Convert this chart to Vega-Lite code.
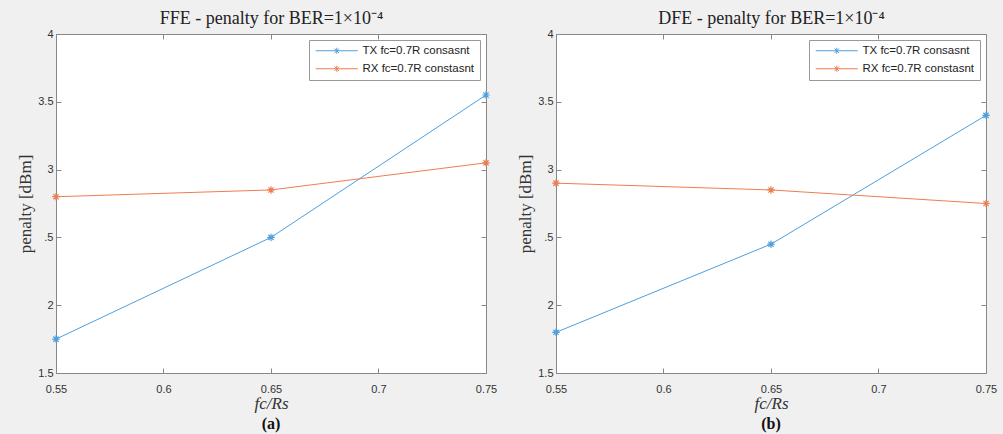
{
  "$schema": "https://vega.github.io/schema/vega-lite/v6.json",
  "background": "#f0f0f0",
  "padding": {"left": 16, "top": 9, "right": 10, "bottom": 2},
  "spacing": 18,
  "resolve": {"scale": {"color": "independent"}, "legend": {"color": "independent"}},
  "datasets": {
    "ffe": [
      {"ratio": 0.55, "penalty": 1.75, "series": "TX fc=0.7R consasnt"},
      {"ratio": 0.65, "penalty": 2.5, "series": "TX fc=0.7R consasnt"},
      {"ratio": 0.75, "penalty": 3.55, "series": "TX fc=0.7R consasnt"},
      {"ratio": 0.55, "penalty": 2.8, "series": "RX fc=0.7R constasnt"},
      {"ratio": 0.65, "penalty": 2.85, "series": "RX fc=0.7R constasnt"},
      {"ratio": 0.75, "penalty": 3.05, "series": "RX fc=0.7R constasnt"}
    ],
    "dfe": [
      {"ratio": 0.55, "penalty": 1.8, "series": "TX fc=0.7R consasnt"},
      {"ratio": 0.65, "penalty": 2.45, "series": "TX fc=0.7R consasnt"},
      {"ratio": 0.75, "penalty": 3.4, "series": "TX fc=0.7R consasnt"},
      {"ratio": 0.55, "penalty": 2.9, "series": "RX fc=0.7R constasnt"},
      {"ratio": 0.65, "penalty": 2.85, "series": "RX fc=0.7R constasnt"},
      {"ratio": 0.75, "penalty": 2.75, "series": "RX fc=0.7R constasnt"}
    ]
  },
  "config": {
    "view": {"fill": "white", "stroke": "#888888"},
    "axis": {
      "domainColor": "#888888",
      "tickColor": "#888888",
      "grid": false,
      "labelFont": "Liberation Sans",
      "labelFontSize": 11,
      "labelColor": "#333333",
      "labelFlush": false,
      "titleFont": "Liberation Serif",
      "titleFontWeight": "normal",
      "titleFontSize": 17,
      "titleColor": "#333333"
    },
    "legend": {
      "orient": "top-right",
      "offset": 6,
      "strokeColor": "#999999",
      "fillColor": "white",
      "padding": 5,
      "labelFont": "Liberation Sans",
      "labelFontSize": 11.5,
      "labelColor": "#222222",
      "symbolType": "M-5.25,0L5.25,0M-0.55,-0.55L0.55,0.55M-0.55,0.55L0.55,-0.55M0,-0.75L0,0.75",
      "symbolSize": 64,
      "symbolStrokeWidth": 1,
      "symbolFillColor": "transparent",
      "symbolOffset": 17,
      "labelOffset": 20,
      "rowPadding": 5
    },
    "title": {"font": "Liberation Serif", "fontSize": 16, "fontWeight": "bold", "color": "#111111"}
  },
  "hconcat": [
    {
      "title": {"text": "(a)", "orient": "bottom", "offset": 5},
      "width": 430,
      "height": 339,
      "data": {"name": "ffe"},
      "layer": [
        {
          "mark": {"type": "line", "strokeWidth": 1},
          "encoding": {
            "x": {"field": "ratio", "type": "quantitative", "scale": {"domain": [0.55, 0.75], "nice": false, "zero": false},
                  "axis": {"orient": "bottom", "title": "fc/Rs", "titleFontStyle": "italic", "values": [0.55, 0.6, 0.65, 0.7, 0.75], "format": "~g", "tickSize": -5, "labelPadding": 15, "titlePadding": 1}},
            "y": {"field": "penalty", "type": "quantitative", "scale": {"domain": [1.5, 4], "nice": false, "zero": false},
                  "axis": {"orient": "left", "title": "penalty [dBm]", "values": [1.5, 2, 2.5, 3, 3.5, 4], "labelExpr": "datum.value == 2.5 ? '.5' : format(datum.value, '~g')", "tickSize": -5, "labelPadding": 8, "titlePadding": 3}},
            "color": {"field": "series", "type": "nominal", "sort": ["TX fc=0.7R consasnt", "RX fc=0.7R constasnt"],
                      "scale": {"domain": ["TX fc=0.7R consasnt", "RX fc=0.7R constasnt"], "range": ["#4f9fdc", "#ef7d52"]},
                      "legend": {"title": null}}
          }
        },
        {
          "mark": {"type": "point", "shape": "M-1,0L1,0M-0.7,-0.7L0.7,0.7M-0.7,0.7L0.7,-0.7M0,-1L0,1", "filled": false, "size": 56, "strokeWidth": 1.2, "opacity": 1},
          "encoding": {
            "x": {"field": "ratio", "type": "quantitative", "axis": null},
            "y": {"field": "penalty", "type": "quantitative", "axis": null},
            "color": {"field": "series", "type": "nominal", "legend": null}
          }
        },
        {
          "mark": {"type": "line", "opacity": 0},
          "encoding": {
            "x": {"field": "ratio", "type": "quantitative",
                  "axis": {"orient": "top", "title": "FFE - penalty for BER=1×10⁻⁴", "titleFontSize": 18, "titleColor": "#222222", "labels": false, "values": [0.55, 0.6, 0.65, 0.7, 0.75], "tickSize": -5, "titlePadding": 6}},
            "y": {"field": "penalty", "type": "quantitative",
                  "axis": {"orient": "right", "title": null, "labels": false, "values": [1.5, 2, 2.5, 3, 3.5, 4], "tickSize": -5}}
          }
        }
      ],
      "resolve": {"axis": {"x": "independent", "y": "independent"}}
    },
    {
      "title": {"text": "(b)", "orient": "bottom", "offset": 5},
      "width": 430,
      "height": 339,
      "data": {"name": "dfe"},
      "layer": [
        {
          "mark": {"type": "line", "strokeWidth": 1},
          "encoding": {
            "x": {"field": "ratio", "type": "quantitative", "scale": {"domain": [0.55, 0.75], "nice": false, "zero": false},
                  "axis": {"orient": "bottom", "title": "fc/Rs", "titleFontStyle": "italic", "values": [0.55, 0.6, 0.65, 0.7, 0.75], "format": "~g", "tickSize": -5, "labelPadding": 15, "titlePadding": 1}},
            "y": {"field": "penalty", "type": "quantitative", "scale": {"domain": [1.5, 4], "nice": false, "zero": false},
                  "axis": {"orient": "left", "title": "penalty [dBm]", "values": [1.5, 2, 2.5, 3, 3.5, 4], "labelExpr": "datum.value == 2.5 ? '.5' : format(datum.value, '~g')", "tickSize": -5, "labelPadding": 8, "titlePadding": 3}},
            "color": {"field": "series", "type": "nominal", "sort": ["TX fc=0.7R consasnt", "RX fc=0.7R constasnt"],
                      "scale": {"domain": ["TX fc=0.7R consasnt", "RX fc=0.7R constasnt"], "range": ["#4f9fdc", "#ef7d52"]},
                      "legend": {"title": null}}
          }
        },
        {
          "mark": {"type": "point", "shape": "M-1,0L1,0M-0.7,-0.7L0.7,0.7M-0.7,0.7L0.7,-0.7M0,-1L0,1", "filled": false, "size": 56, "strokeWidth": 1.2, "opacity": 1},
          "encoding": {
            "x": {"field": "ratio", "type": "quantitative", "axis": null},
            "y": {"field": "penalty", "type": "quantitative", "axis": null},
            "color": {"field": "series", "type": "nominal", "legend": null}
          }
        },
        {
          "mark": {"type": "line", "opacity": 0},
          "encoding": {
            "x": {"field": "ratio", "type": "quantitative",
                  "axis": {"orient": "top", "title": "DFE - penalty for BER=1×10⁻⁴", "titleFontSize": 18, "titleColor": "#222222", "labels": false, "values": [0.55, 0.6, 0.65, 0.7, 0.75], "tickSize": -5, "titlePadding": 6}},
            "y": {"field": "penalty", "type": "quantitative",
                  "axis": {"orient": "right", "title": null, "labels": false, "values": [1.5, 2, 2.5, 3, 3.5, 4], "tickSize": -5}}
          }
        }
      ],
      "resolve": {"axis": {"x": "independent", "y": "independent"}}
    }
  ]
}
